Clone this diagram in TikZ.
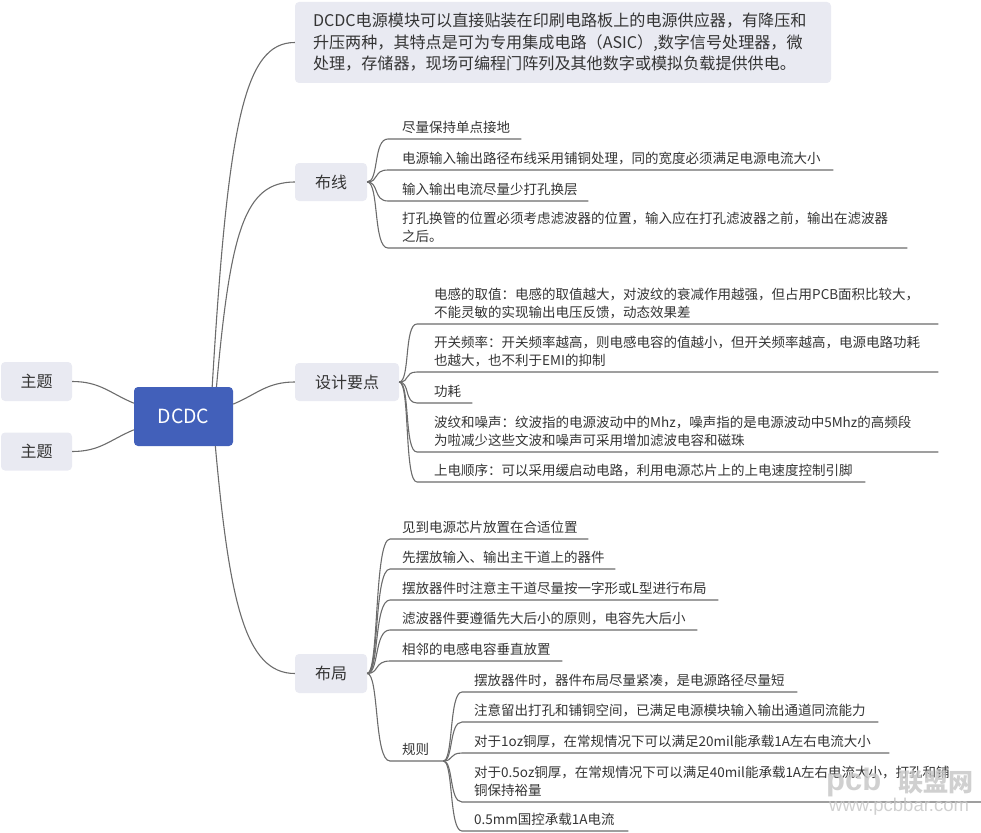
\documentclass[tikz,border=0pt]{standalone}
\usepackage{fontspec}
\setmainfont{Noto Sans CJK SC}
\newfontfamily\wmfont{Liberation Sans}
\definecolor{topicfill}{RGB}{233,234,242}
\definecolor{dcblue}{RGB}{66,96,186}
\definecolor{txt}{RGB}{52,52,52}
\definecolor{linec}{RGB}{108,108,108}
\definecolor{wmc}{RGB}{200,200,200}
\newcommand\lf[3]{\parbox[b]{#1pt}{\leftskip=#2pt\relax\rightskip=0pt plus 1fil\relax\parindent=0pt\relax #3}}
\begin{document}
\begin{tikzpicture}[x=1pt,y=-1pt,
  conn/.style={draw=linec, line width=1.1pt},
  topic/.style={fill=topicfill, rounded corners=4pt, font=\fontsize{16}{19}\selectfont, text=txt, inner sep=0pt, minimum height=38pt},
  topbox/.style={fill=topicfill, rounded corners=4pt, minimum width=536pt, minimum height=81pt, text width=500pt, inner xsep=18pt, align=left, font=\fontsize{16.1}{21.5}\selectfont, text=txt},
  dcbox/.style={fill=dcblue, rounded corners=4pt, minimum width=99pt, minimum height=59pt, inner sep=0pt, text=white, font=\fontsize{19.5}{22}\selectfont},
  leaf/.style={anchor=south west, inner xsep=0pt, inner ysep=6pt, text depth=0pt, font=\fontsize{13.5}{18.5}\selectfont, text=txt},
  wm/.style={text=wmc, inner sep=0pt, opacity=0.85}
]
\useasboundingbox (0,0) rectangle (981,832);

% central and main topics
\node[dcbox] (dc) at (183.5,416.5) {DCDC};
\node[topic, minimum width=71pt, minimum height=39pt] (t1) at (36.5,381.5) {主题};
\node[topic, minimum width=71pt] (t2) at (36.5,451.5) {主题};
\node[topbox] (top) at (563,42.5) {DCDC电源模块可以直接贴装在印刷电路板上的电源供应器，有降压和\\升压两种，其特点是可为专用集成电路（ASIC）,数字信号处理器，微\\处理，存储器，现场可编程门阵列及其他数字或模拟负载提供供电。};
\node[topic, minimum width=72pt] (bx) at (331,182) {布线};
\node[topic, minimum width=104pt] (sj) at (347,382) {设计要点};
\node[topic, minimum width=72pt, minimum height=39pt] (bj) at (331,673.5) {布局};

% connectors from the centre
\draw[conn] (t1.east) .. controls +(28,0) and +(-24,-10) .. (dc.165);
\draw[conn] (t2.east) .. controls +(28,0) and +(-24,10) .. (dc.195);
\draw[conn] (dc.46) .. controls +(16,-267) and +(-50,0) .. (top.west);
\draw[conn] (dc.42) .. controls +(14,-157) and +(-50,0) .. (bx.west);
\draw[conn] (dc.14) .. controls +(24,-10) and +(-28,0) .. (sj.west);
\draw[conn] (dc.-43) .. controls +(14,154) and +(-50,0) .. (bj.west);

% 布线
\node[leaf] (b1) at (388,139) {\lf{133}{14}{尽量保持单点接地}};
\node[leaf] (b2) at (388,170) {\lf{445}{14}{电源输入输出路径布线采用铺铜处理，同的宽度必须满足电源电流大小}};
\node[leaf] (b3) at (388,201) {\lf{200}{14}{输入输出电流尽量少打孔换层}};
\node[leaf] (b4) at (388,248) {\lf{519}{14}{打孔换管的位置必须考虑滤波器的位置，输入应在打孔滤波器之前，输出在滤波器\\之后。}};
\foreach \c in {b1,b2,b3,b4}
  \draw[conn] (bx.east) .. controls +(12,0) and +(-15,0) .. (\c.south west) -- (\c.south east);

% 设计要点
\node[leaf] (d1) at (417,324) {\lf{521}{17}{电感的取值：电感的取值越大，对波纹的衰减作用越强，但占用PCB面积比较大，\\不能灵敏的实现输出电压反馈，动态效果差}};
\node[leaf] (d2) at (417,372) {\lf{521}{17}{开关频率：开关频率越高，则电感电容的值越小，但开关频率越高，电源电路功耗\\也越大，也不利于EMI的抑制}};
\node[leaf] (d3) at (417,403) {\lf{55}{17}{功耗}};
\node[leaf] (d4) at (417,452) {\lf{521}{17}{波纹和噪声：纹波指的电源波动中的Mhz，噪声指的是电源波动中5Mhz的高频段\\为啦减少这些文波和噪声可采用增加滤波电容和磁珠}};
\node[leaf] (d5) at (417,482) {\lf{448}{17}{上电顺序：可以采用缓启动电路，利用电源芯片上的上电速度控制引脚}};
\foreach \c in {d1,d2,d3,d4,d5}
  \draw[conn] (sj.east) .. controls +(11,0) and +(-13,0) .. (\c.south west) -- (\c.south east);

% 布局
\node[leaf] (l1) at (390,539) {\lf{198}{12}{见到电源芯片放置在合适位置}};
\node[leaf] (l2) at (390,569) {\lf{225}{12}{先摆放输入、输出主干道上的器件}};
\node[leaf] (l3) at (390,600) {\lf{328}{12}{摆放器件时注意主干道尽量按一字形或L型进行布局}};
\node[leaf] (l4) at (390,630) {\lf{307}{12}{滤波器件要遵循先大后小的原则，电容先大后小}};
\node[leaf] (l5) at (390,661) {\lf{172}{12}{相邻的电感电容垂直放置}};
\node[leaf] (gz) at (390,761) {\lf{53}{12}{规则}};
\foreach \c in {l1,l2,l3,l4,l5,gz}
  \draw[conn] (bj.east) .. controls +(12,0) and +(-16,0) .. (\c.south west) -- (\c.south east);

% 规则
\node[leaf] (r1) at (462,692) {\lf{335}{12}{摆放器件时，器件布局尽量紧凑，是电源路径尽量短}};
\node[leaf] (r2) at (462,722) {\lf{416}{12}{注意留出打孔和铺铜空间，已满足电源模块输入输出通道同流能力}};
\node[leaf] (r3) at (462,753) {\lf{427}{12}{对于1oz铜厚，在常规情况下可以满足20mil能承载1A左右电流大小}};
\node[leaf] (r4) at (462,802) {\lf{519}{12}{对于0.5oz铜厚，在常规情况下可以满足40mil能承载1A左右电流大小，打孔和铺\\铜保持裕量}};
\node[leaf] (r5) at (462,831) {\lf{166}{12}{0.5mm国控承载1A电流}};
\foreach \c in {r1,r2,r3,r4,r5}
  \draw[conn] (gz.south east) .. controls +(10,0) and +(-13,0) .. (\c.south west) -- (\c.south east);

% watermark
\node[wm, anchor=west, font=\wmfont\bfseries\fontsize{31}{31}\selectfont] (wm1) at (826,782) {pcb};
\node[wm, anchor=west, font=\bfseries\fontsize{25}{25}\selectfont] (wm2) at (898,782) {联盟网};
\node[wm, anchor=west, font=\wmfont\fontsize{18.5}{18.5}\selectfont] (wm3) at (829,807) {www.pcbbar.com};
\end{tikzpicture}
\end{document}
